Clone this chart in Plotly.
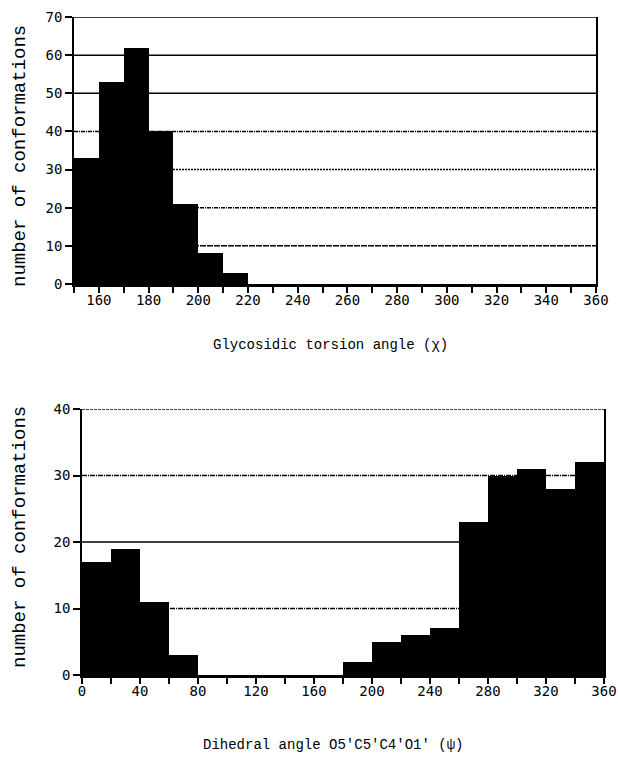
import plotly.graph_objects as go

# Glycosidic torsion angle (chi): 10-degree bins
chi_bin_start = [150, 160, 170, 180, 190, 200, 210]
chi_counts = [33, 53, 62, 40, 21, 8, 3]
chi_bin_width = 10
chi_ticks = list(range(150, 361, 10))
chi_tick_labels = [str(v) if v % 20 == 0 else "" for v in chi_ticks]
chi_y_ticks = list(range(0, 71, 10))

# Dihedral angle O5'C5'C4'O1' (psi): 20-degree bins
psi_bin_start = list(range(0, 360, 20))
psi_counts = [17, 19, 11, 3, 0, 0, 0, 0, 0, 2, 5, 6, 7, 23, 30, 31, 28, 32]
psi_bin_width = 20
psi_ticks = list(range(0, 361, 20))
psi_tick_labels = [str(v) if v % 40 == 0 else "" for v in psi_ticks]
psi_y_ticks = list(range(0, 41, 10))

W, H = 618, 762
TICK_FONT = dict(family="DejaVu Sans Mono", size=14, color="black")
TEXT_FONT = "Liberation Mono"


def px_x(p):
    return p / W


def px_y(p):
    return 1 - p / H


fig = go.Figure()

fig.add_trace(go.Bar(
    x=[s + chi_bin_width / 2 for s in chi_bin_start], y=chi_counts,
    width=chi_bin_width, marker=dict(color="black", line=dict(width=0)),
    xaxis="x", yaxis="y", showlegend=False))

fig.add_trace(go.Bar(
    x=[s + psi_bin_width / 2 for s in psi_bin_start], y=psi_counts,
    width=psi_bin_width, marker=dict(color="black", line=dict(width=0)),
    xaxis="x2", yaxis="y2", showlegend=False))

common_x = dict(showline=True, linecolor="black", linewidth=2.5, mirror=False,
                ticks="outside", ticklen=6, tickwidth=1.5, tickcolor="black",
                showgrid=False, zeroline=False, tickfont=TICK_FONT, tickangle=0,
                ticklabelstandoff=-5, automargin=False)
common_y = dict(showline=True, linecolor="black", linewidth=1.5, mirror=True,
                ticks="outside", ticklen=7, tickwidth=1.5, tickcolor="black",
                showgrid=False, zeroline=False, tickfont=TICK_FONT,
                automargin=False)

fig.update_layout(
    width=W, height=H,
    margin=dict(l=0, r=0, t=0, b=0, autoexpand=False),
    paper_bgcolor="white", plot_bgcolor="white",
    bargap=0,
    xaxis=dict(domain=[px_x(74), px_x(596)], range=[150, 360], anchor="y",
               tickvals=chi_ticks, ticktext=chi_tick_labels, **common_x),
    yaxis=dict(domain=[px_y(284), px_y(17)], range=[0, 70], anchor="x",
               tickvals=chi_y_ticks, **common_y),
    xaxis2=dict(domain=[px_x(82), px_x(604)], range=[0, 360], anchor="y2",
                tickvals=psi_ticks, ticktext=psi_tick_labels, **common_x),
    yaxis2=dict(domain=[px_y(675), px_y(409)], range=[0, 40], anchor="x2",
                tickvals=psi_y_ticks, **common_y),
)

# Horizontal reference lines, each with its own stroke pattern
chi_grid_dash = {10: "6px,1px", 20: "4px,1px,1px,1px", 30: "2px,1px",
                 40: "4px,1px,1px,1px", 50: "solid", 60: "solid", 70: "solid"}
psi_grid_dash = {10: "5px,1px,1px,1px", 20: "solid", 30: "5px,1px,1px,1px",
                 40: "3px,1px"}

for val, dash in chi_grid_dash.items():
    fig.add_shape(type="line", xref="x domain", yref="y", x0=0, x1=1,
                  y0=val, y1=val, layer="below",
                  line=dict(color="black", width=1.5, dash=dash))
for val, dash in psi_grid_dash.items():
    fig.add_shape(type="line", xref="x2 domain", yref="y2", x0=0, x1=1,
                  y0=val, y1=val, layer="below",
                  line=dict(color="black", width=1.5, dash=dash))

# Axis titles
title_common = dict(xref="paper", yref="paper", showarrow=False,
                    xanchor="center", yanchor="middle")
fig.add_annotation(text="Glycosidic torsion angle (χ)",
                   x=px_x(330), y=px_y(345),
                   font=dict(family=TEXT_FONT, size=14, color="black"),
                   **title_common)
fig.add_annotation(text="Dihedral angle O5'C5'C4'O1' (ψ)",
                   x=px_x(333), y=px_y(745),
                   font=dict(family=TEXT_FONT, size=14, color="black"),
                   **title_common)
fig.add_annotation(text="number of conformations",
                   x=px_x(20), y=px_y(156), textangle=-90,
                   font=dict(family=TEXT_FONT, size=19, color="black"),
                   **title_common)
fig.add_annotation(text="number of conformations",
                   x=px_x(20), y=px_y(537), textangle=-90,
                   font=dict(family=TEXT_FONT, size=19, color="black"),
                   **title_common)

fig.write_html("out.html")
